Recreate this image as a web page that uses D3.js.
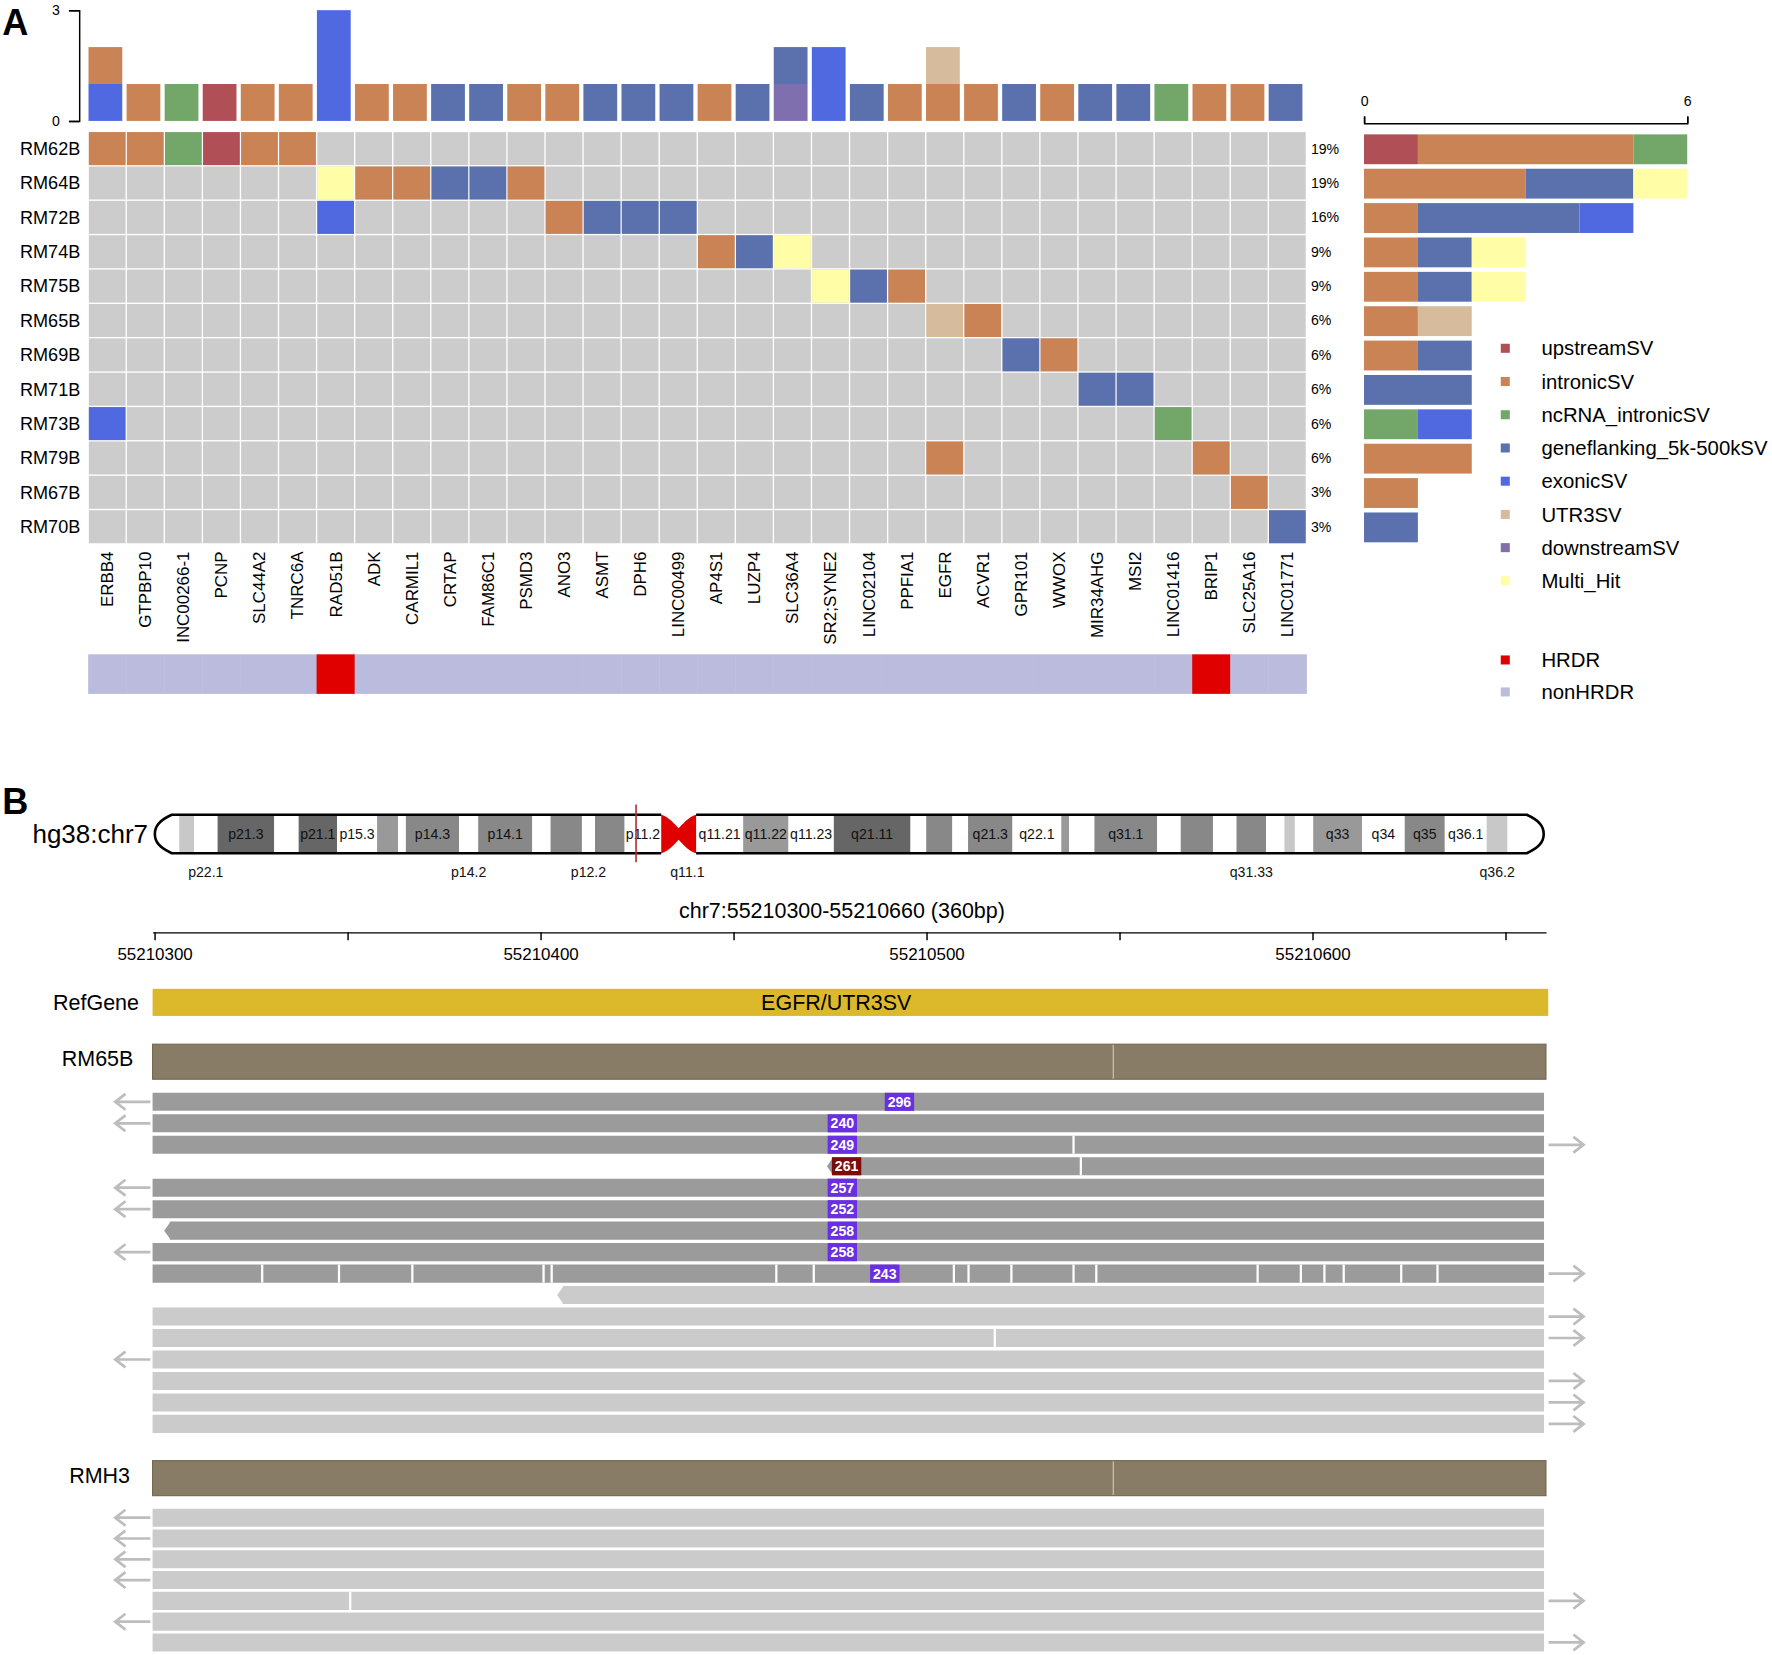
<!DOCTYPE html>
<html>
<head>
<meta charset="utf-8">
<script src="https://cdn.jsdelivr.net/npm/d3@7"></script>
<style>
  body { margin: 0; background: #fff; }
  svg { display: block; font-family: "Liberation Sans", Arial, Helvetica, sans-serif; }
</style>
</head>
<body>
<div id="fig"></div>
<script>
// ---------- panel A data ----------
var genes = ["ERBB4","GTPBP10","INC00266-1","PCNP","SLC44A2","TNRC6A","RAD51B","ADK","CARMIL1","CRTAP",
  "FAM86C1","PSMD3","ANO3","ASMT","DPH6","LINC00499","AP4S1","LUZP4","SLC36A4","SR2;SYNE2",
  "LINC02104","PPFIA1","EGFR","ACVR1","GPR101","WWOX","MIR34AHG","MSI2","LINC01416","BRIP1",
  "SLC25A16","LINC01771"];
var samples = ["RM62B","RM64B","RM72B","RM74B","RM75B","RM65B","RM69B","RM71B","RM73B","RM79B","RM67B","RM70B"];
var samplePct = ["19%","19%","16%","9%","9%","6%","6%","6%","6%","6%","3%","3%"];
var svTypes = ["upstreamSV","intronicSV","ncRNA_intronicSV","geneflanking_5k-500kSV","exonicSV","UTR3SV","downstreamSV","Multi_Hit"];
var svColors = ["#b04f55","#c98354","#73a769","#5a71ad","#5068e0","#d6bb9c","#7f6faf","#fffda6"];
var hrdrTypes = ["HRDR","nonHRDR"];
var hrdrColors = ["#e00000","#bbbbdd"];
var hrdrGenes = ["RAD51B","BRIP1"];

// sample, gene, SV class (one oncoprint cell each)
var hits = [
  ["RM62B","ERBB4","intronicSV"],["RM62B","GTPBP10","intronicSV"],["RM62B","INC00266-1","ncRNA_intronicSV"],
  ["RM62B","PCNP","upstreamSV"],["RM62B","SLC44A2","intronicSV"],["RM62B","TNRC6A","intronicSV"],
  ["RM64B","RAD51B","Multi_Hit"],["RM64B","ADK","intronicSV"],["RM64B","CARMIL1","intronicSV"],
  ["RM64B","CRTAP","geneflanking_5k-500kSV"],["RM64B","FAM86C1","geneflanking_5k-500kSV"],["RM64B","PSMD3","intronicSV"],
  ["RM72B","RAD51B","exonicSV"],["RM72B","ANO3","intronicSV"],["RM72B","ASMT","geneflanking_5k-500kSV"],
  ["RM72B","DPH6","geneflanking_5k-500kSV"],["RM72B","LINC00499","geneflanking_5k-500kSV"],
  ["RM74B","AP4S1","intronicSV"],["RM74B","LUZP4","geneflanking_5k-500kSV"],["RM74B","SLC36A4","Multi_Hit"],
  ["RM75B","SR2;SYNE2","Multi_Hit"],["RM75B","LINC02104","geneflanking_5k-500kSV"],["RM75B","PPFIA1","intronicSV"],
  ["RM65B","EGFR","UTR3SV"],["RM65B","ACVR1","intronicSV"],
  ["RM69B","GPR101","geneflanking_5k-500kSV"],["RM69B","WWOX","intronicSV"],
  ["RM71B","MIR34AHG","geneflanking_5k-500kSV"],["RM71B","MSI2","geneflanking_5k-500kSV"],
  ["RM73B","ERBB4","exonicSV"],["RM73B","LINC01416","ncRNA_intronicSV"],
  ["RM79B","EGFR","intronicSV"],["RM79B","BRIP1","intronicSV"],
  ["RM67B","SLC25A16","intronicSV"],
  ["RM70B","LINC01771","geneflanking_5k-500kSV"]
];

// per-gene stacked counts, bottom segment first
var geneBars = [
  ["ERBB4","exonicSV",1],["ERBB4","intronicSV",1],["GTPBP10","intronicSV",1],["INC00266-1","ncRNA_intronicSV",1],
  ["PCNP","upstreamSV",1],["SLC44A2","intronicSV",1],["TNRC6A","intronicSV",1],["RAD51B","exonicSV",3],
  ["ADK","intronicSV",1],["CARMIL1","intronicSV",1],["CRTAP","geneflanking_5k-500kSV",1],
  ["FAM86C1","geneflanking_5k-500kSV",1],["PSMD3","intronicSV",1],["ANO3","intronicSV",1],
  ["ASMT","geneflanking_5k-500kSV",1],["DPH6","geneflanking_5k-500kSV",1],["LINC00499","geneflanking_5k-500kSV",1],
  ["AP4S1","intronicSV",1],["LUZP4","geneflanking_5k-500kSV",1],["SLC36A4","downstreamSV",1],
  ["SLC36A4","geneflanking_5k-500kSV",1],["SR2;SYNE2","exonicSV",2],["LINC02104","geneflanking_5k-500kSV",1],
  ["PPFIA1","intronicSV",1],["EGFR","intronicSV",1],["EGFR","UTR3SV",1],["ACVR1","intronicSV",1],
  ["GPR101","geneflanking_5k-500kSV",1],["WWOX","intronicSV",1],["MIR34AHG","geneflanking_5k-500kSV",1],
  ["MSI2","geneflanking_5k-500kSV",1],["LINC01416","ncRNA_intronicSV",1],["BRIP1","intronicSV",1],
  ["SLC25A16","intronicSV",1],["LINC01771","geneflanking_5k-500kSV",1]
];

// ---------- panel B data ----------
// hg38 chr7 cytobands, Mb
var cytoBands = [
  ["p22.3",0,2.8,"gneg"],["p22.2",2.8,4.5,"gpos25"],["p22.1",4.5,7.2,"gneg"],["p21.3",7.2,13.7,"gpos100"],
  ["p21.2",13.7,16.5,"gneg"],["p21.1",16.5,20.9,"gpos100"],["p15.3",20.9,25.5,"gneg"],["p15.2",25.5,27.9,"gpos50"],
  ["p15.1",27.9,28.8,"gneg"],["p14.3",28.8,34.9,"gpos75"],["p14.2",34.9,37.1,"gneg"],["p14.1",37.1,43.3,"gpos75"],
  ["p13",43.3,45.4,"gneg"],["p12.3",45.4,49.0,"gpos75"],["p12.2",49.0,50.5,"gneg"],["p12.1",50.5,53.9,"gpos75"],
  ["p11.2",53.9,58.1,"gneg"],["p11.1",58.1,60.1,"acen"],["q11.1",60.1,62.1,"acen"],["q11.21",62.1,67.5,"gneg"],
  ["q11.22",67.5,72.7,"gpos50"],["q11.23",72.7,77.9,"gneg"],["q21.11",77.9,86.7,"gpos100"],["q21.12",86.7,88.5,"gneg"],
  ["q21.13",88.5,91.5,"gpos75"],["q21.2",91.5,93.3,"gneg"],["q21.3",93.3,98.4,"gpos75"],["q22.1",98.4,104.0,"gneg"],
  ["q22.2",104.0,104.9,"gpos50"],["q22.3",104.9,107.8,"gneg"],["q31.1",107.8,115.0,"gpos75"],["q31.2",115.0,117.7,"gneg"],
  ["q31.31",117.7,121.4,"gpos75"],["q31.32",121.4,124.1,"gneg"],["q31.33",124.1,127.5,"gpos75"],["q32.1",127.5,129.6,"gneg"],
  ["q32.2",129.6,130.8,"gpos25"],["q32.3",130.8,132.9,"gneg"],["q33",132.9,138.5,"gpos50"],["q34",138.5,143.4,"gneg"],
  ["q35",143.4,148.0,"gpos75"],["q36.1",148.0,152.8,"gneg"],["q36.2",152.8,155.2,"gpos25"],["q36.3",155.2,159.345973,"gneg"]
];
var bandsInside = ["p21.3","p21.1","p15.3","p14.3","p14.1","p11.2","q11.21","q11.22","q11.23","q21.11",
  "q21.3","q22.1","q31.1","q33","q34","q35","q36.1"];
var bandsBelow = ["p22.1","p14.2","p12.2","q11.1","q31.33","q36.2"];
var chrLength = 159.345973;
var locusMb = 55.21048;

var viewStart = 55210300, viewEnd = 55210660;
var refGene = { name: "EGFR/UTR3SV", start: 55210200, end: 55210800 };
var coverageBreaks = [55210548.4];

// read records: strand, extent, split-read label and mismatch/gap positions
var rm65Reads = [
  { strand: "-", start: 55210150, end: 55210660, shade: "dark", label: "296", at: 55210493.0 },
  { strand: "-", start: 55210150, end: 55210660, shade: "dark", label: "240", at: 55210478.2 },
  { strand: "+", start: 55210250, end: 55210760, shade: "dark", label: "249", at: 55210478.2, marks: [55210538.1] },
  { strand: "-", start: 55210474.2, end: 55210660, shade: "dark", label: "261", at: 55210479.3, other: true, marks: [55210540.0] },
  { strand: "-", start: 55210150, end: 55210660, shade: "dark", label: "257", at: 55210478.2 },
  { strand: "-", start: 55210150, end: 55210660, shade: "dark", label: "252", at: 55210478.2 },
  { strand: "-", start: 55210302.5, end: 55210660, shade: "dark", label: "258", at: 55210478.2 },
  { strand: "-", start: 55210150, end: 55210660, shade: "dark", label: "258", at: 55210478.2 },
  { strand: "+", start: 55210250, end: 55210760, shade: "dark", label: "243", at: 55210489.2,
    marks: [55210327.9,55210347.8,55210366.8,55210400.8,55210402.9,55210461.1,55210470.8,55210507.1,55210510.9,
            55210522.0,55210538.1,55210544.0,55210585.8,55210597.0,55210603.1,55210608.1,55210623.0,55210632.4] },
  { strand: "-", start: 55210404.3, end: 55210660, shade: "light" },
  { strand: "+", start: 55210250, end: 55210760, shade: "light" },
  { strand: "+", start: 55210250, end: 55210760, shade: "light", marks: [55210517.7] },
  { strand: "-", start: 55210150, end: 55210660, shade: "light" },
  { strand: "+", start: 55210250, end: 55210760, shade: "light" },
  { strand: "+", start: 55210250, end: 55210760, shade: "light" },
  { strand: "+", start: 55210250, end: 55210760, shade: "light" }
];
var rmh3Reads = [
  { strand: "-", start: 55210150, end: 55210660, shade: "light" },
  { strand: "-", start: 55210150, end: 55210660, shade: "light" },
  { strand: "-", start: 55210150, end: 55210660, shade: "light" },
  { strand: "-", start: 55210150, end: 55210660, shade: "light" },
  { strand: "+", start: 55210250, end: 55210760, shade: "light", marks: [55210350.7] },
  { strand: "-", start: 55210150, end: 55210660, shade: "light" },
  { strand: "+", start: 55210250, end: 55210760, shade: "light" }
];

// ---------- canvas ----------
var W = 1568, H = 1464.5;
var svg = d3.select("#fig").append("svg")
  .attr("width", 1772).attr("height", 1655)
  .attr("viewBox", "0 0 " + W + " " + H);

// ================= panel A =================
var x = d3.scaleBand().domain(genes).range([78, 1156]);
var y = d3.scaleBand().domain(samples).range([116.3, 481.3]);
var color = d3.scaleOrdinal().domain(svTypes).range(svColors);
var bw = x.bandwidth(), bh = y.bandwidth();

var A = svg.append("g");
A.append("text").attr("x", 2).attr("y", 31).attr("font-size", 32).attr("font-weight", "bold").text("A");

// oncoprint grid
A.append("g").selectAll("rect").data(d3.cross(samples, genes)).join("rect")
  .attr("x", d => x(d[1]) + 0.6).attr("y", d => y(d[0]) + 0.6)
  .attr("width", bw - 1.2).attr("height", bh - 1.2)
  .attr("fill", "#cccccc");
A.append("g").selectAll("rect").data(hits).join("rect")
  .attr("x", d => x(d[1]) + 0.6).attr("y", d => y(d[0]) + 0.6)
  .attr("width", bw - 1.2).attr("height", bh - 1.2)
  .attr("fill", d => color(d[2]));

// row labels and percentages
A.append("g").selectAll("text").data(samples).join("text")
  .attr("x", 71).attr("y", d => y(d) + bh / 2).attr("dy", "0.35em")
  .attr("text-anchor", "end").attr("font-size", 16).text(d => d);
A.append("g").selectAll("text").data(samplePct).join("text")
  .attr("x", 1160).attr("y", (d, i) => y(samples[i]) + bh / 2).attr("dy", "0.35em")
  .attr("font-size", 12.5).text(d => d);

// gene labels
A.append("g").selectAll("text").data(genes).join("text")
  .attr("transform", d => "translate(" + (x(d) + bw / 2) + ",488) rotate(-90)")
  .attr("dy", "0.35em").attr("text-anchor", "end").attr("font-size", 15).text(d => d);

// top stacked bars
var yTop = d3.scaleLinear().domain([0, 3]).range([107, 9]);
var stacked = [], base = {};
geneBars.forEach(function (b) {
  var y0 = base[b[0]] || 0;
  stacked.push({ gene: b[0], type: b[1], y0: y0, y1: y0 + b[2] });
  base[b[0]] = y0 + b[2];
});
A.append("g").selectAll("rect").data(stacked).join("rect")
  .attr("x", d => x(d.gene) + 0.3).attr("width", bw - 3.8)
  .attr("y", d => yTop(d.y1)).attr("height", d => yTop(d.y0) - yTop(d.y1))
  .attr("fill", d => color(d.type));
A.append("g").attr("transform", "translate(70,0)")
  .call(d3.axisLeft(yTop).tickValues([0, 3]).tickSize(9).tickSizeOuter(9).tickPadding(8).tickFormat(d3.format("d")))
  .attr("font-family", null).attr("font-size", 12.5)
  .call(g => g.selectAll("path,line").attr("stroke-width", 1.3));

// right stacked bars (per sample, legend order)
var xr = d3.scaleLinear().domain([0, 6]).range([1207, 1493]);
var rowStack = [];
samples.forEach(function (s) {
  var acc = 0;
  svTypes.forEach(function (t) {
    var n = hits.filter(h => h[0] === s && h[2] === t).length;
    if (n) { rowStack.push({ sample: s, type: t, x0: acc, x1: acc + n }); acc += n; }
  });
});
A.append("g").selectAll("rect").data(rowStack).join("rect")
  .attr("x", d => xr(d.x0)).attr("width", d => xr(d.x1) - xr(d.x0))
  .attr("y", d => y(d.sample) + 2.6).attr("height", bh - 4)
  .attr("fill", d => color(d.type));
A.append("g").attr("transform", "translate(0,109)")
  .call(d3.axisTop(xr).tickValues([0, 6]).tickSize(6).tickSizeOuter(6).tickPadding(9).tickFormat(d3.format("d")))
  .attr("font-family", null).attr("font-size", 12.5)
  .call(g => g.selectAll("path,line").attr("stroke-width", 1.3));

// HRDR status strip
A.append("g").selectAll("rect").data(genes).join("rect")
  .attr("x", d => x(d)).attr("width", bw + 0.4)
  .attr("y", 579).attr("height", 35)
  .attr("fill", d => hrdrGenes.indexOf(d) >= 0 ? hrdrColors[0] : hrdrColors[1]);

// legends
var leg = A.append("g");
svTypes.forEach(function (t, i) {
  var ly = 308.2 + i * 29.4;
  leg.append("rect").attr("x", 1328).attr("y", ly - 4).attr("width", 8).attr("height", 8).attr("fill", svColors[i]);
  leg.append("text").attr("x", 1364).attr("y", ly).attr("dy", "0.35em").attr("font-size", 18).text(t);
});
hrdrTypes.forEach(function (t, i) {
  var ly = 584 + i * 28.3;
  leg.append("rect").attr("x", 1328).attr("y", ly - 4).attr("width", 8).attr("height", 8).attr("fill", hrdrColors[i]);
  leg.append("text").attr("x", 1364).attr("y", ly).attr("dy", "0.35em").attr("font-size", 18).text(t);
});

// ================= panel B =================
var B = svg.append("g");
B.append("text").attr("x", 2).attr("y", 720).attr("font-size", 32).attr("font-weight", "bold").text("B");
B.append("text").attr("x", 131).attr("y", 738).attr("dy", "0.35em").attr("text-anchor", "end")
  .attr("font-size", 23).text("hg38:chr7");

// ideogram
var xc = d3.scaleLinear().domain([0, chrLength]).range([137, 1366]);
var iTop = 721, iBot = 755, iMid = 738;
var bandTone = { gneg: "#ffffff", gpos25: "#c8c8c8", gpos50: "#999999", gpos75: "#888888", gpos100: "#666666" };
var cenA = xc(58.1), cenM = xc(60.1), cenB = xc(62.1);
var L0 = xc(0), R0 = xc(chrLength);
var pArm = "M" + cenA + "," + iTop + " L" + (L0 + 15) + "," + iTop +
  " C" + (L0 + 4) + "," + (iTop + 5) + " " + L0 + "," + (iMid - 7) + " " + L0 + "," + iMid +
  " C" + L0 + "," + (iMid + 7) + " " + (L0 + 4) + "," + (iBot - 5) + " " + (L0 + 15) + "," + iBot +
  " L" + cenA + "," + iBot;
var qArm = "M" + cenB + "," + iTop + " L" + (R0 - 15) + "," + iTop +
  " C" + (R0 - 4) + "," + (iTop + 5) + " " + R0 + "," + (iMid - 7) + " " + R0 + "," + iMid +
  " C" + R0 + "," + (iMid + 7) + " " + (R0 - 4) + "," + (iBot - 5) + " " + (R0 - 15) + "," + iBot +
  " L" + cenB + "," + iBot;
var defs = svg.append("defs");
var clip = defs.append("clipPath").attr("id", "chrClip");
clip.append("path").attr("d", pArm + " Z");
clip.append("path").attr("d", qArm + " Z");

B.append("g").attr("clip-path", "url(#chrClip)")
  .selectAll("rect").data(cytoBands.filter(b => b[3] !== "acen")).join("rect")
  .attr("x", d => xc(d[1])).attr("width", d => xc(d[2]) - xc(d[1]))
  .attr("y", iTop).attr("height", iBot - iTop)
  .attr("fill", d => bandTone[d[3]]);
B.append("path")
  .attr("d", "M" + cenA + "," + iTop +
    " C" + (cenA + 7) + "," + (iTop + 2) + " " + (cenM - 3) + "," + (iMid - 8) + " " + cenM + "," + (iMid - 5) +
    " C" + (cenM + 3) + "," + (iMid - 8) + " " + (cenB - 7) + "," + (iTop + 2) + " " + cenB + "," + iTop +
    " L" + cenB + "," + iBot +
    " C" + (cenB - 7) + "," + (iBot - 2) + " " + (cenM + 3) + "," + (iMid + 8) + " " + cenM + "," + (iMid + 5) +
    " C" + (cenM - 3) + "," + (iMid + 8) + " " + (cenA + 7) + "," + (iBot - 2) + " " + cenA + "," + iBot + " Z")
  .attr("fill", "#e00000");
B.append("path").attr("d", pArm).attr("fill", "none").attr("stroke", "#000").attr("stroke-width", 2.3);
B.append("path").attr("d", qArm).attr("fill", "none").attr("stroke", "#000").attr("stroke-width", 2.3);

B.append("g").selectAll("text").data(cytoBands.filter(b => bandsInside.indexOf(b[0]) >= 0)).join("text")
  .attr("x", d => xc((d[1] + d[2]) / 2)).attr("y", iMid).attr("dy", "0.35em")
  .attr("text-anchor", "middle").attr("font-size", 12.5).attr("fill", "#111").text(d => d[0]);
B.append("g").selectAll("text").data(cytoBands.filter(b => bandsBelow.indexOf(b[0]) >= 0)).join("text")
  .attr("x", d => xc((d[1] + d[2]) / 2)).attr("y", 772).attr("dy", "0.35em")
  .attr("text-anchor", "middle").attr("font-size", 12.5).attr("fill", "#111").text(d => d[0]);
B.append("line")
  .attr("x1", xc(locusMb)).attr("x2", xc(locusMb)).attr("y1", 712).attr("y2", 763)
  .attr("stroke", "#b02a2a").attr("stroke-width", 1.4);

// genomic axis
var xg = d3.scaleLinear().domain([viewStart - 0.5, viewEnd + 0.5]).range([135, 1368]);
B.append("text").attr("x", 745).attr("y", 806).attr("dy", "0.35em").attr("text-anchor", "middle")
  .attr("font-size", 19)
  .text("chr7:" + viewStart + "-" + viewEnd + " (" + (viewEnd - viewStart) + "bp)");
B.append("g").attr("transform", "translate(0,825)")
  .call(d3.axisBottom(xg).tickValues(d3.range(viewStart, viewEnd, 50))
    .tickFormat(d => d % 100 === 0 ? String(d) : "").tickSize(7).tickSizeOuter(0).tickPadding(7))
  .attr("font-family", null).attr("font-size", 15)
  .call(g => g.selectAll("path,line").attr("stroke-width", 1.3));

// RefGene track
B.append("text").attr("x", 123).attr("y", 887).attr("dy", "0.35em").attr("text-anchor", "end")
  .attr("font-size", 19).text("RefGene");
B.append("rect")
  .attr("x", xg(Math.max(refGene.start, viewStart - 0.5))).attr("y", 875)
  .attr("width", xg(Math.min(refGene.end, viewEnd + 0.5)) - xg(Math.max(refGene.start, viewStart - 0.5)) + 2)
  .attr("height", 24).attr("fill", "#dcb92b");
B.append("text").attr("x", 740).attr("y", 887).attr("dy", "0.35em").attr("text-anchor", "middle")
  .attr("font-size", 19).text(refGene.name);

// coverage + reads
var arrowColor = "#bdbdbd";
function coverageTrack(label, labelX, y0) {
  B.append("text").attr("x", labelX).attr("y", y0 + 13).attr("dy", "0.35em").attr("text-anchor", "end")
    .attr("font-size", 19).text(label);
  B.append("rect").attr("x", xg(viewStart - 0.5)).attr("y", y0).attr("width", xg(viewEnd + 0.5) - xg(viewStart - 0.5))
    .attr("height", 31).attr("fill", "#887c66").attr("stroke", "#74684f").attr("stroke-width", 1);
  B.append("g").selectAll("line").data(coverageBreaks).join("line")
    .attr("x1", d => xg(d)).attr("x2", d => xg(d)).attr("y1", y0 + 0.5).attr("y2", y0 + 30.5)
    .attr("stroke", "#cfc6b3").attr("stroke-width", 1);
}
function drawReads(reads, top, pitch) {
  var vs = viewStart - 0.5, ve = viewEnd;
  var g = B.append("g");
  reads.forEach(function (r, i) {
    var y0 = top + i * pitch, y1 = y0 + 16, yc = y0 + 8;
    var a = xg(Math.max(r.start, vs)), b = xg(Math.min(r.end, ve));
    var fill = r.shade === "dark" ? "#9b9b9b" : "#cbcbcb";
    var tip = r.strand === "-" && r.start > vs;
    var d = tip
      ? "M" + a + "," + yc + " L" + (a + 5) + "," + (y0 + 1) + " L" + (a + 5) + "," + y0 + " L" + b + "," + y0 + " L" + b + "," + y1 + " L" + (a + 5) + "," + y1 + " L" + (a + 5) + "," + (y1 - 1) + " Z"
      : "M" + a + "," + y0 + " L" + b + "," + y0 + " L" + b + "," + y1 + " L" + a + "," + y1 + " Z";
    g.append("path").attr("d", d).attr("fill", fill);
    (r.marks || []).forEach(function (m) {
      g.append("rect").attr("x", xg(m) - 1).attr("y", y0).attr("width", 2).attr("height", 16).attr("fill", "#fff");
    });
    if (r.strand === "-" && r.start < vs) {
      g.append("path")
        .attr("d", "M" + (a - 2) + "," + yc + " L" + (a - 33) + "," + yc + " M" + (a - 24) + "," + (yc - 7) + " L" + (a - 33) + "," + yc + " L" + (a - 24) + "," + (yc + 7))
        .attr("fill", "none").attr("stroke", arrowColor).attr("stroke-width", 2.4);
    }
    if (r.strand === "+" && r.end > ve) {
      g.append("path")
        .attr("d", "M" + (b + 4) + "," + yc + " L" + (b + 35) + "," + yc + " M" + (b + 26) + "," + (yc - 7) + " L" + (b + 35) + "," + yc + " L" + (b + 26) + "," + (yc + 7))
        .attr("fill", "none").attr("stroke", arrowColor).attr("stroke-width", 2.4);
    }
    if (r.label) {
      g.append("rect").attr("x", xg(r.at) - 13).attr("y", y0).attr("width", 26).attr("height", 16)
        .attr("fill", r.other ? "#7a0c0c" : "#6b2fe3");
      g.append("text").attr("x", xg(r.at)).attr("y", yc).attr("dy", "0.36em").attr("text-anchor", "middle")
        .attr("font-size", 12.5).attr("font-weight", "bold").attr("fill", "#fff").text(r.label);
    }
  });
}

coverageTrack("RM65B", 118, 924);
drawReads(rm65Reads, 967, 19);
coverageTrack("RMH3", 115, 1292.5);
drawReads(rmh3Reads, 1335, 18.4);
</script>
</body>
</html>
